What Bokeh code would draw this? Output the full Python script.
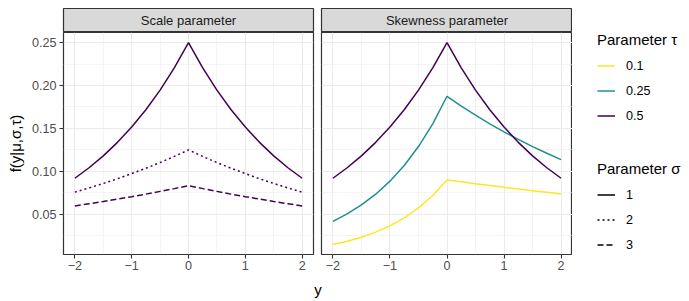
from bokeh.plotting import figure
from bokeh.models import Range1d, FixedTicker, Grid, Label, Legend, LegendItem, PrintfTickFormatter
from bokeh.layouts import column, row
from bokeh.embed import file_html
from bokeh.resources import INLINE

# ---------------- data ----------------
y_vals = [-2.0, -1.75, -1.5, -1.25, -1.0, -0.75, -0.5, -0.25, 0.0,
          0.25, 0.5, 0.75, 1.0, 1.25, 1.5, 1.75, 2.0]

# Scale panel (tau = 0.5), sigma = 1, 2, 3
scale_sigma1 = [0.0920, 0.1042, 0.1181, 0.1338, 0.1516, 0.1718, 0.1947, 0.2206, 0.2500,
                0.2206, 0.1947, 0.1718, 0.1516, 0.1338, 0.1181, 0.1042, 0.0920]
scale_sigma2 = [0.0758, 0.0807, 0.0859, 0.0914, 0.0974, 0.1036, 0.1103, 0.1174, 0.1250,
                0.1174, 0.1103, 0.1036, 0.0974, 0.0914, 0.0859, 0.0807, 0.0758]
scale_sigma3 = [0.0597, 0.0623, 0.0649, 0.0677, 0.0705, 0.0735, 0.0767, 0.0799, 0.0833,
                0.0799, 0.0767, 0.0735, 0.0705, 0.0677, 0.0649, 0.0623, 0.0597]

# Skewness panel (sigma = 1), tau = 0.1, 0.25, 0.5
skew_tau010 = [0.0149, 0.0186, 0.0233, 0.0292, 0.0366, 0.0458, 0.0574, 0.0719, 0.0900,
               0.0878, 0.0856, 0.0835, 0.0814, 0.0794, 0.0775, 0.0756, 0.0737]
skew_tau025 = [0.0418, 0.0505, 0.0609, 0.0734, 0.0886, 0.1068, 0.1289, 0.1554, 0.1875,
               0.1761, 0.1655, 0.1554, 0.1460, 0.1372, 0.1289, 0.1211, 0.1137]
skew_tau050 = [0.0920, 0.1042, 0.1181, 0.1338, 0.1516, 0.1718, 0.1947, 0.2206, 0.2500,
               0.2206, 0.1947, 0.1718, 0.1516, 0.1338, 0.1181, 0.1042, 0.0920]

tau_labels = ["0.1", "0.25", "0.5"]
sigma_labels = ["1", "2", "3"]
panel_titles = ["Scale parameter", "Skewness parameter"]
x_ticks = [-2, -1, 0, 1, 2]
x_minor = [-1.5, -0.5, 0.5, 1.5]
y_ticks = [0.05, 0.10, 0.15, 0.20, 0.25]
y_minor = [0.025, 0.075, 0.125, 0.175, 0.225]

# ---------------- style ----------------
FONT = "Liberation Sans"
TICK_FS = "12.6px"
STRIP_FS = "13px"
TITLE_FS = "15px"
LEGLAB_FS = "12.6px"
TAU_COLORS = ["#FDE725", "#21908C", "#440154"]
SIGMA_DASH = ["solid", "2 3", "6 3"]
LW = 1.5
XR = (-2.2, 2.2)
YR = (0.00314, 0.2618)
FRAME_H = 222
BOTTOM = 24
STRIP_H = 24
TOP = 8


def make_panel(left_b, right_b, frame_w, show_y):
    p = figure(width=left_b + frame_w + right_b, height=FRAME_H + BOTTOM,
               x_range=Range1d(*XR), y_range=Range1d(*YR),
               output_backend="svg", toolbar_location=None, tools="",
               min_border_left=left_b, min_border_right=right_b,
               min_border_top=0, min_border_bottom=BOTTOM,
               y_axis_location="left" if show_y else None)
    p.background_fill_color = "white"
    p.border_fill_color = "white"
    p.outline_line_color = "#333333"
    p.outline_line_width = 1.2
    for g in p.grid:
        g.visible = False
    xt = FixedTicker(ticks=x_ticks, minor_ticks=x_minor)
    yt = FixedTicker(ticks=y_ticks, minor_ticks=y_minor)
    for dim, t in ((0, xt), (1, yt)):
        g = Grid(dimension=dim, ticker=t, grid_line_color="#EBEBEB", grid_line_width=1.1,
                 minor_grid_line_color="#EBEBEB", minor_grid_line_width=0.55)
        p.add_layout(g)
    ax = p.xaxis[0]
    ax.ticker = xt
    ax.major_label_overrides = {-2: "\u22122", -1: "\u22121", 0: "0", 1: "1", 2: "2"}
    ax.axis_line_color = None
    ax.major_tick_in = 0
    ax.major_tick_out = 4
    ax.major_tick_line_color = "#333333"
    ax.major_tick_line_width = 1.1
    ax.minor_tick_line_color = None
    ax.major_label_standoff = 2
    ax.major_label_text_font = FONT
    ax.major_label_text_font_size = TICK_FS
    ax.major_label_text_color = "#4D4D4D"
    if show_y:
        ay = p.yaxis[0]
        ay.ticker = yt
        ay.formatter = PrintfTickFormatter(format="%.2f")
        ay.axis_line_color = None
        ay.major_tick_in = 0
        ay.major_tick_out = 4
        ay.major_tick_line_color = "#333333"
        ay.major_tick_line_width = 1.1
        ay.minor_tick_line_color = None
        ay.major_label_standoff = 3
        ay.major_label_text_font = FONT
        ay.major_label_text_font_size = TICK_FS
        ay.major_label_text_color = "#4D4D4D"
        ay.axis_label = "f(y|\u03bc,\u03c3,\u03c4)"
        ay.axis_label_text_font = FONT
        ay.axis_label_text_font_size = TITLE_FS
        ay.axis_label_text_font_style = "normal"
        ay.axis_label_text_color = "black"
        ay.axis_label_standoff = 5
    return p


def make_strip(left_b, right_b, frame_w, title):
    s = figure(width=left_b + frame_w + right_b, height=STRIP_H + TOP,
               x_range=Range1d(0, 1), y_range=Range1d(0, 1),
               output_backend="svg", toolbar_location=None, tools="",
               min_border_left=left_b, min_border_right=right_b,
               min_border_top=TOP, min_border_bottom=0,
               x_axis_location=None, y_axis_location=None)
    s.grid.visible = False
    s.background_fill_color = "#D9D9D9"
    s.border_fill_color = "white"
    s.outline_line_color = "#333333"
    s.outline_line_width = 1.2
    s.add_layout(Label(x=0.5, y=0.5, text=title, text_align="center", text_baseline="middle",
                       text_font=FONT, text_font_size=STRIP_FS, text_color="#1A1A1A"))
    return s


# Panel 1 : scale
p1 = make_panel(63, 4, 250, True)
for vals, dash in zip([scale_sigma1, scale_sigma2, scale_sigma3], SIGMA_DASH):
    p1.line(y_vals, vals, line_color=TAU_COLORS[2], line_width=LW, line_dash=dash)
s1 = make_strip(63, 4, 250, panel_titles[0])

# Panel 2 : skewness
p2 = make_panel(4, 0, 251, False)
for vals, col in zip([skew_tau010, skew_tau025, skew_tau050], TAU_COLORS):
    p2.line(y_vals, vals, line_color=col, line_width=LW)
s2 = make_strip(4, 0, 251, panel_titles[1])

# Legend figure
LEG_W = 117
LEG_H = TOP + STRIP_H + FRAME_H + BOTTOM
lf = figure(width=LEG_W, height=LEG_H, x_range=Range1d(0, 1), y_range=Range1d(0, 1),
            output_backend="svg", toolbar_location=None, tools="",
            min_border_left=0, min_border_right=0, min_border_top=0, min_border_bottom=0,
            x_axis_location=None, y_axis_location=None)
lf.grid.visible = False
lf.outline_line_color = None
lf.background_fill_color = "white"
lf.border_fill_color = "white"

tau_items = []
for lab, col in zip(tau_labels, TAU_COLORS):
    r = lf.line([-10, -9], [-10, -9], line_color=col, line_width=LW)
    tau_items.append(LegendItem(label=lab, renderers=[r]))
sig_items = []
for lab, dash in zip(sigma_labels, SIGMA_DASH):
    r = lf.line([-10, -9], [-10, -9], line_color="black", line_width=LW, line_dash=dash)
    sig_items.append(LegendItem(label=lab, renderers=[r]))


def style_legend(items, title, loc):
    return Legend(items=items, title=title, location=loc, orientation="vertical",
                  border_line_color=None, background_fill_alpha=0, padding=0, margin=0,
                  spacing=8, glyph_width=18, glyph_height=17, label_height=17,
                  label_standoff=11, title_standoff=9,
                  label_text_font=FONT, label_text_font_size=LEGLAB_FS, label_text_color="black",
                  title_text_font=FONT, title_text_font_size=TITLE_FS,
                  title_text_font_style="normal", title_text_color="black")


lf.add_layout(style_legend(tau_items, "Parameter \u03c4", (25, LEG_H - 124)))
lf.add_layout(style_legend(sig_items, "Parameter \u03c3", (25, LEG_H - 253)))

# x axis title figure (absolute page coordinates as range)
XF_H = 301 - LEG_H
xf = figure(width=689, height=XF_H, x_range=Range1d(0, 689), y_range=Range1d(301, LEG_H),
            output_backend="svg", toolbar_location=None, tools="",
            min_border_left=0, min_border_right=0, min_border_top=0, min_border_bottom=0,
            x_axis_location=None, y_axis_location=None)
xf.grid.visible = False
xf.outline_line_color = None
xf.background_fill_color = "white"
xf.border_fill_color = "white"
xf.add_layout(Label(x=317.5, y=289, text="y", text_align="center", text_baseline="alphabetic",
                    text_font=FONT, text_font_size=TITLE_FS, text_color="black"))

layout = column(row(column(s1, p1, spacing=0), column(s2, p2, spacing=0), lf, spacing=0), xf,
                spacing=0)

open("out.html", "w").write(file_html(layout, INLINE))
